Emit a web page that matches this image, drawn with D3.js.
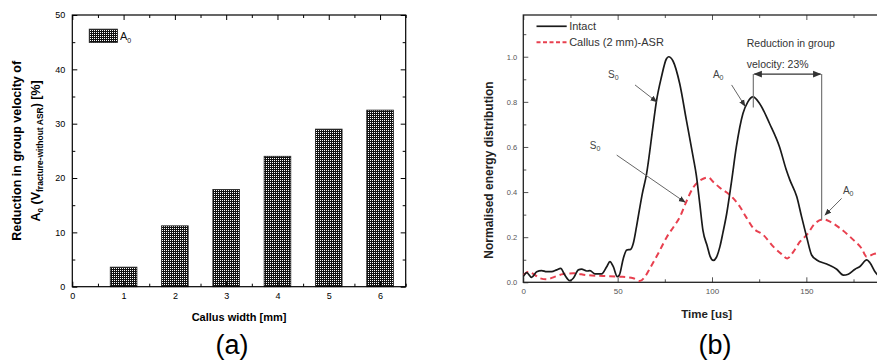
<!DOCTYPE html>
<html><head><meta charset="utf-8">
<script src="https://cdn.jsdelivr.net/npm/d3@7"></script>
<style>body{margin:0;background:#fff}svg{display:block}text{font-family:Arial,"Liberation Sans",sans-serif}</style>
</head><body><svg id="c" width="877" height="360"></svg>
<script>
// ---- Panel (a) data ----
const callusWidths = [1, 2, 3, 4, 5, 6];
const reductionA0 = [3.6, 11.2, 17.9, 24.0, 29.0, 32.5];
const xTicksA = [0, 1, 2, 3, 4, 5, 6];
const yTicksA = [0, 10, 20, 30, 40, 50];

// ---- Panel (b) data ----
const timeIntact = [0,1.8,4.4,7.1,9.7,12.4,15,17.7,19.8,22,24.7,26.5,29.2,30.9,33.6,35.3,38,41.5,44.2,45.9,47.7,49.8,50.9,53,54.8,56.9,58.3,60,61.5,63,65.3,68.8,70.5,73.2,75.8,77,79.4,82.9,86.4,90,91.7,93.5,95.2,97.5,99,100.7,102.3,104.2,105.8,107.8,110.4,112.9,116.4,119,121.7,125.2,130.5,135.8,139.3,141.3,144.9,147.5,150.2,152.8,155.5,160.8,166.1,169.6,172.2,175.8,178.4,182,183.7,186.4,188];
const intact = [.025,.043,.022,.047,.052,.047,.047,.055,.062,.032,.007,.018,.055,.058,.05,.052,.037,.037,.069,.092,.069,.025,.032,.106,.143,.146,.173,.247,.32,.39,.48,.696,.8,.91,.99,1.0,.98,.88,.72,.556,.474,.35,.23,.16,.115,.097,.11,.158,.22,.305,.45,.6,.748,.8,.822,.793,.704,.6,.5,.453,.38,.29,.2,.121,.099,.081,.058,.032,.036,.058,.07,.099,.087,.047,.03];
const timeCallus = [0,2.7,5.3,8.8,12.4,15.9,21.2,26.5,33.6,42.4,51.2,58.3,61.8,64.5,67.1,71.5,76,80,83,86,90,94.4,98,100.7,104,109.5,114.8,118,121.9,127.2,132.5,136.9,139.9,143.1,146.6,150.2,154.6,159,162.5,167.8,174.9,179.3,182,185.5,188];
const callus = [.032,.047,.037,.018,.013,.022,.037,.04,.032,.028,.025,.018,.006,.025,.062,.128,.2,.25,.29,.35,.42,.455,.465,.445,.42,.387,.335,.29,.24,.21,.158,.125,.106,.135,.18,.21,.261,.279,.269,.24,.188,.15,.113,.125,.13];
const xTicksB = [0, 50, 100, 150];
const yTicksB = [0, 0.2, 0.4, 0.6, 0.8, 1.0];
const legendB = ["Intact", "Callus (2 mm)-ASR"];
// annotation anchors in data units [t, v]
const labelsB = [
  {txt:"S", at:[47.7,.905], from:[59.2,.875], to:[70.7,.80]},
  {txt:"A", at:[103.3,.905], from:[110.4,.875], to:[117.5,.781]},
  {txt:"S", at:[38,.592], from:[49.5,.564], to:[85.7,.355]},
  {txt:"A", at:[172.2,.392], from:[168.7,.372], to:[159.9,.298]}
];
const groupTimes = [121.9, 158.1];

const svg = d3.select("#c");
svg.append("rect").attr("width",877).attr("height",360).attr("fill","#fff");
const defs = svg.append("defs");
const pat = defs.append("pattern").attr("id","chk").attr("width",2).attr("height",2).attr("patternUnits","userSpaceOnUse");
pat.append("rect").attr("width",2).attr("height",2).attr("fill","#111");
pat.append("rect").attr("width",1).attr("height",1).attr("fill","#fff");

// ================= Panel (a) =================
const xA = d3.scaleLinear().domain([0,6.5]).range([72.3,405.7]);
const yA = d3.scaleLinear().domain([0,50]).range([286.7,15]);
const gA = svg.append("g");
gA.selectAll("rect.bar").data(callusWidths).join("rect").attr("class","bar")
  .attr("x", d => xA(d-0.26)).attr("width", xA(0.52)-xA(0))
  .attr("y", (d,i) => yA(reductionA0[i])).attr("height", (d,i) => yA(0)-yA(reductionA0[i]))
  .attr("fill","url(#chk)").attr("stroke","#222").attr("stroke-width",0.8);

function styleAxis(g, fs, col){
  g.select(".domain").remove();
  g.selectAll("line").attr("stroke", col).attr("stroke-width",1);
  g.selectAll("text").attr("font-size", fs).attr("fill", col);
}
const minorXA = d3.range(0,6.51,0.5).filter(v => v%1 !== 0);
const minorYA = [5,15,25,35,45];
gA.append("g").attr("transform",`translate(0,${yA(0)})`)
  .call(d3.axisBottom(xA).tickValues(xTicksA).tickFormat(d3.format("d")).tickSize(-5).tickPadding(6)).call(g=>styleAxis(g,9,"#000"));
gA.append("g").attr("transform",`translate(0,${yA(0)})`)
  .call(d3.axisBottom(xA).tickValues(minorXA).tickFormat("").tickSize(-3)).call(g=>styleAxis(g,9,"#000"));
gA.append("g").attr("transform",`translate(0,${yA(50)})`)
  .call(d3.axisTop(xA).tickValues(xTicksA).tickFormat("").tickSize(-5)).call(g=>styleAxis(g,9,"#000"));
gA.append("g").attr("transform",`translate(0,${yA(50)})`)
  .call(d3.axisTop(xA).tickValues(minorXA).tickFormat("").tickSize(-3)).call(g=>styleAxis(g,9,"#000"));
gA.append("g").attr("transform",`translate(${xA(0)},0)`)
  .call(d3.axisLeft(yA).tickValues(yTicksA).tickFormat(d3.format("d")).tickSize(-5).tickPadding(7)).call(g=>styleAxis(g,9,"#000"));
gA.append("g").attr("transform",`translate(${xA(0)},0)`)
  .call(d3.axisLeft(yA).tickValues(minorYA).tickFormat("").tickSize(-3)).call(g=>styleAxis(g,9,"#000"));
gA.append("g").attr("transform",`translate(${xA(6.5)},0)`)
  .call(d3.axisRight(yA).tickValues(yTicksA).tickFormat("").tickSize(-5)).call(g=>styleAxis(g,9,"#000"));
gA.append("g").attr("transform",`translate(${xA(6.5)},0)`)
  .call(d3.axisRight(yA).tickValues(minorYA).tickFormat("").tickSize(-3)).call(g=>styleAxis(g,9,"#000"));
gA.append("rect").attr("x",xA(0)).attr("y",yA(50)).attr("width",xA(6.5)-xA(0)).attr("height",yA(0)-yA(50))
  .attr("fill","none").attr("stroke","#000").attr("stroke-width",1.2);

// legend (a)
gA.append("rect").attr("x",xA(0.33)).attr("y",yA(47.4)).attr("width",xA(0.55)-xA(0)).attr("height",yA(0)-yA(2.47))
  .attr("fill","url(#chk)").attr("stroke","#222").attr("stroke-width",0.8);
const la = gA.append("text").attr("x",xA(0.93)).attr("y",yA(45.4)).attr("font-size",11).attr("fill","#111");
la.append("tspan").text("A");
la.append("tspan").attr("font-size",7).attr("dy",3).text("0");

// axis labels (a)
gA.append("text").attr("x",(xA(0)+xA(6.5))/2).attr("y",321).attr("text-anchor","middle")
  .attr("font-size",11).attr("font-weight","bold").text("Callus width [mm]");
gA.append("text").attr("transform",`translate(21,${(yA(0)+yA(50))/2}) rotate(-90)`)
  .attr("text-anchor","middle").attr("font-size",12.5).attr("font-weight","bold").text("Reduction in group velocity of");
const yl2 = gA.append("text").attr("transform",`translate(40,${(yA(0)+yA(50))/2}) rotate(-90)`)
  .attr("text-anchor","middle").attr("font-size",12.5).attr("font-weight","bold");
yl2.append("tspan").text("A");
yl2.append("tspan").attr("font-size",8).attr("dy",3).text("0");
yl2.append("tspan").attr("dy",-3).text(" (V");
yl2.append("tspan").attr("font-size",8.5).attr("dy",3).text("fracture-without ASR");
yl2.append("tspan").attr("dy",-3).text(") [%]");
gA.append("text").attr("x",232).attr("y",354).attr("text-anchor","middle").attr("font-size",27).attr("fill","#000").text("(a)");

// ================= Panel (b) =================
const xB = d3.scaleLinear().domain([0,200]).range([523.3, 523.3+200*1.887]);
const yB = d3.scaleLinear().domain([0,1.185]).range([282.3,15]);
const gB = svg.append("g");
defs.append("clipPath").attr("id","clipB").append("rect")
  .attr("x",xB(0)).attr("y",yB(1.185)).attr("width",xB(200)-xB(0)).attr("height",yB(0)-yB(1.185));
const minorXB = [25,75,125,175];
const minorYB = [0.1,0.3,0.5,0.7,0.9,1.1];
gB.append("g").attr("transform",`translate(0,${yB(0)})`)
  .call(d3.axisBottom(xB).tickValues(xTicksB).tickFormat(d3.format("d")).tickSize(-5).tickPadding(6)).call(g=>styleAxis(g,8,"#555"));
gB.append("g").attr("transform",`translate(0,${yB(0)})`)
  .call(d3.axisBottom(xB).tickValues(minorXB).tickFormat("").tickSize(-3)).call(g=>styleAxis(g,8,"#555"));
gB.append("g").attr("transform",`translate(0,${yB(1.185)})`)
  .call(d3.axisTop(xB).tickValues(xTicksB).tickFormat("").tickSize(-5)).call(g=>styleAxis(g,8,"#555"));
gB.append("g").attr("transform",`translate(0,${yB(1.185)})`)
  .call(d3.axisTop(xB).tickValues(minorXB).tickFormat("").tickSize(-3)).call(g=>styleAxis(g,8,"#555"));
gB.append("g").attr("transform",`translate(${xB(0)},0)`)
  .call(d3.axisLeft(yB).tickValues(yTicksB).tickFormat(d3.format(".1f")).tickSize(-5).tickPadding(6)).call(g=>styleAxis(g,7.5,"#555"));
gB.append("g").attr("transform",`translate(${xB(0)},0)`)
  .call(d3.axisLeft(yB).tickValues(minorYB).tickFormat("").tickSize(-3)).call(g=>styleAxis(g,8,"#555"));
gB.append("rect").attr("x",xB(0)).attr("y",yB(1.185)).attr("width",xB(200)-xB(0)).attr("height",yB(0)-yB(1.185))
  .attr("fill","none").attr("stroke","#222").attr("stroke-width",1.3);

const line = d3.line().x(d=>xB(d[0])).y(d=>yB(d[1])).curve(d3.curveMonotoneX);
const plot = gB.append("g").attr("clip-path","url(#clipB)");
plot.append("path").datum(timeCallus.map((t,i)=>[t,callus[i]])).attr("d",line)
  .attr("fill","none").attr("stroke","#e8404f").attr("stroke-width",2).attr("stroke-dasharray","6,4");
plot.append("path").datum(timeIntact.map((t,i)=>[t,intact[i]])).attr("d",line)
  .attr("fill","none").attr("stroke","#1a1a1a").attr("stroke-width",1.7);

// legend (b)
gB.append("line").attr("x1",xB(7)).attr("x2",xB(23)).attr("y1",yB(1.135)).attr("y2",yB(1.135)).attr("stroke","#1a1a1a").attr("stroke-width",1.7);
gB.append("line").attr("x1",xB(7)).attr("x2",xB(23)).attr("y1",yB(1.064)).attr("y2",yB(1.064)).attr("stroke","#e8404f").attr("stroke-width",2).attr("stroke-dasharray","4,2.5");
legendB.forEach((s,i)=>{
  gB.append("text").attr("x",xB(24.3)).attr("y",yB(i?1.064:1.135)+4).attr("font-size",11).attr("fill","#333").text(s);
});

// annotations
defs.append("marker").attr("id","ah").attr("viewBox","0 0 10 10").attr("refX",9).attr("refY",5)
  .attr("markerWidth",7).attr("markerHeight",7).attr("orient","auto-start-reverse")
  .append("path").attr("d","M0,1L10,5L0,9Z").attr("fill","#333");
labelsB.forEach(l=>{
  const t = gB.append("text").attr("x",xB(l.at[0])).attr("y",yB(l.at[1])).attr("font-size",10).attr("fill","#444").attr("text-anchor","middle");
  t.append("tspan").text(l.txt);
  t.append("tspan").attr("font-size",7).attr("dy",2).text("0");
  gB.append("line").attr("x1",xB(l.from[0])).attr("y1",yB(l.from[1])).attr("x2",xB(l.to[0])).attr("y2",yB(l.to[1]))
    .attr("stroke","#666").attr("stroke-width",1).attr("marker-end","url(#ah)");
});
const arrowV = 0.923;
gB.append("line").attr("x1",xB(groupTimes[0])).attr("x2",xB(groupTimes[0])).attr("y1",yB(arrowV)).attr("y2",yB(0.775)).attr("stroke","#777").attr("stroke-width",1.2);
gB.append("line").attr("x1",xB(groupTimes[1])).attr("x2",xB(groupTimes[1])).attr("y1",yB(arrowV)).attr("y2",yB(0.276)).attr("stroke","#777").attr("stroke-width",1.2);
gB.append("line").attr("x1",xB(groupTimes[0])+1).attr("x2",xB(groupTimes[1])-1).attr("y1",yB(arrowV)).attr("y2",yB(arrowV))
  .attr("stroke","#333").attr("stroke-width",1.2).attr("marker-end","url(#ah)").attr("marker-start","url(#ah)");
gB.append("text").attr("x",xB(118.4)).attr("y",yB(1.062)+4).attr("font-size",10.5).attr("fill","#333").text("Reduction in group");
gB.append("text").attr("x",xB(118.4)).attr("y",yB(0.966)+4).attr("font-size",10.5).attr("fill","#333").text("velocity: 23%");

gB.append("text").attr("x",706.7).attr("y",318).attr("text-anchor","middle").attr("font-size",11.5).attr("font-weight","bold").attr("fill","#222").text("Time [us]");
gB.append("text").attr("transform",`translate(493,170) rotate(-90)`).attr("text-anchor","middle")
  .attr("font-size",12).attr("font-weight","bold").attr("fill","#222").text("Normalised energy distribution");
gB.append("text").attr("x",715).attr("y",354).attr("text-anchor","middle").attr("font-size",27).attr("fill","#000").text("(b)");
</script></body></html>
